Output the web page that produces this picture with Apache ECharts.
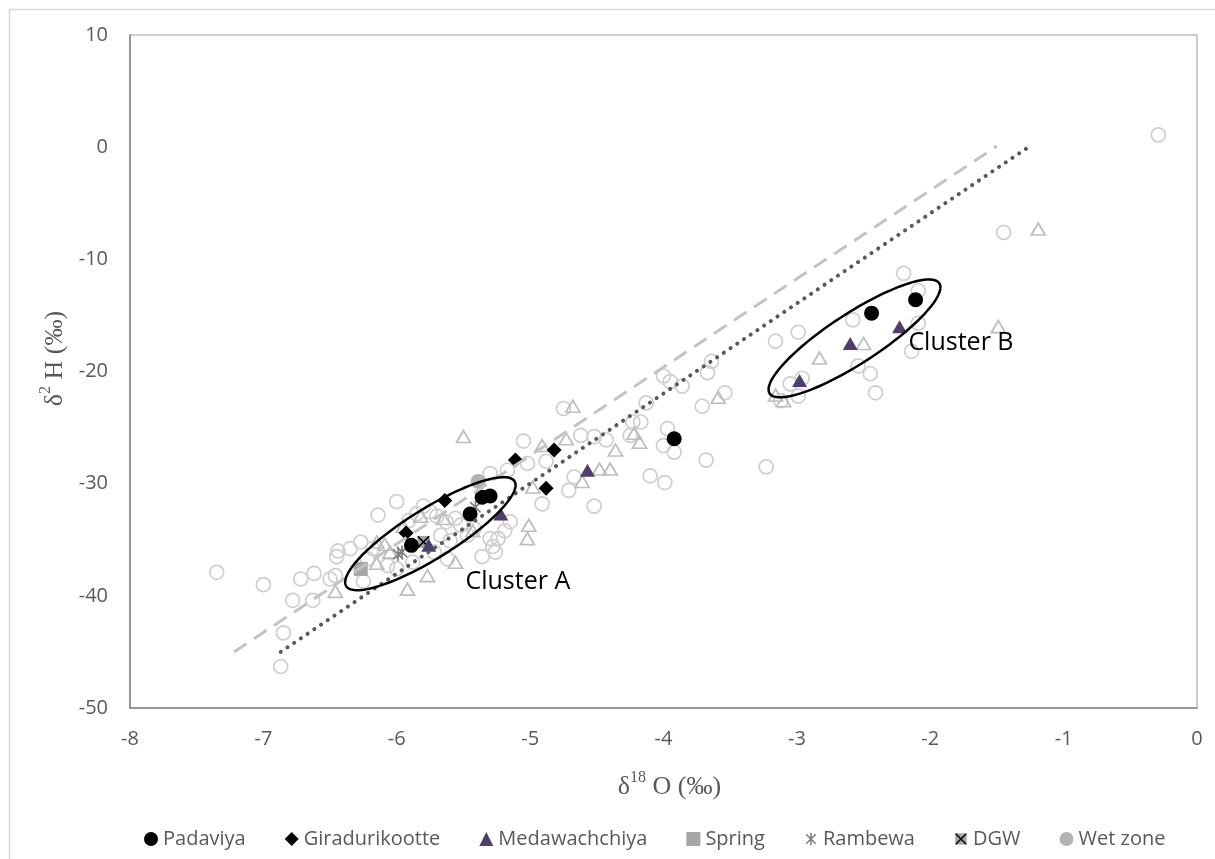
<!DOCTYPE html>
<html>
<head>
<meta charset="utf-8">
<script src="https://cdn.jsdelivr.net/npm/echarts@6/dist/echarts.min.js"></script>
<style>html,body{margin:0;padding:0;background:#fff}#chart{width:1215px;height:859px}</style>
</head>
<body>
<div id="chart"></div>
<script>
// ---------- axis ticks ----------
const xTicks = [-8, -7, -6, -5, -4, -3, -2, -1, 0];
const yTicks = [-50, -40, -30, -20, -10, 0, 10];

// ---------- series values [δ18O, δ2H] ----------
const padaviya = [[-5.45,-32.7],[-5.36,-31.2],[-5.3,-31.1],[-5.89,-35.5],[-3.92,-26.0],[-2.44,-14.8],[-2.11,-13.6]];
const giradurikootte = [[-5.93,-34.4],[-5.64,-31.5],[-5.11,-27.9],[-4.82,-27.0],[-4.88,-30.4]];
const medawachchiya = [[-5.22,-32.7],[-5.76,-35.5],[-4.57,-28.8],[-2.98,-20.8],[-2.6,-17.5],[-2.23,-16.0]];
const spring = [[-6.27,-37.6]];
const rambewa = [[-5.99,-36.3],[-5.96,-36.1],[-5.41,-32.1]];
const dgw = [[-5.8,-35.2]];
const wetZone = [[-5.39,-29.8]];

const otherCircles = [
[-7.35,-37.9],[-7.0,-39.0],[-6.72,-38.5],[-6.62,-38.0],[-6.78,-40.4],[-6.63,-40.4],[-6.85,-43.3],[-6.87,-46.3],
[-6.5,-38.5],[-6.46,-38.2],[-6.45,-36.5],[-6.44,-36.0],[-6.27,-35.2],[-6.14,-32.8],[-6.0,-31.6],
[-5.91,-33.3],[-5.85,-32.7],[-5.75,-32.5],[-5.7,-32.9],[-5.63,-33.4],[-5.56,-33.1],[-5.52,-33.7],[-5.42,-34.0],
[-5.3,-34.9],[-5.36,-36.5],[-5.26,-36.1],[-5.6,-35.1],[-5.67,-34.6],[-5.72,-36.1],[-5.62,-36.7],[-5.88,-37.0],
[-6.0,-37.6],[-6.07,-37.3],[-6.18,-35.8],[-6.22,-36.7],[-6.35,-35.8],[-5.8,-32.0],[-5.47,-34.6],[-5.15,-33.4],
[-5.19,-34.2],[-5.24,-34.9],[-6.25,-38.7],[-5.28,-35.6],
[-5.3,-29.1],[-5.17,-28.8],[-5.02,-28.2],[-4.88,-28.0],[-5.05,-26.2],[-4.91,-31.8],
[-4.75,-23.3],[-4.62,-25.7],[-4.52,-25.8],[-4.43,-26.1],[-4.67,-29.4],[-4.71,-30.6],[-4.52,-32.0],[-4.25,-25.7],
[-4.23,-24.5],[-4.17,-24.5],[-4.13,-22.8],[-4.1,-29.3],[-4.0,-20.4],[-3.95,-20.9],[-3.86,-21.3],[-3.97,-25.1],
[-4.0,-26.6],[-3.92,-27.2],[-3.99,-29.9],[-3.71,-23.1],[-3.54,-21.9],[-3.67,-20.1],[-3.64,-19.1],[-3.68,-27.9],
[-3.23,-28.5],[-3.16,-17.3],[-2.99,-16.5],[-2.58,-15.4],[-2.54,-19.5],[-2.96,-20.6],[-3.05,-21.1],[-2.99,-22.2],
[-3.12,-22.6],[-2.2,-11.25],[-2.09,-12.8],[-2.09,-15.7],[-2.14,-18.2],[-2.45,-20.2],[-2.41,-21.9],[-1.45,-7.6],[-0.29,1.1]
];
const otherTriangles = [
[-6.46,-39.6],[-6.15,-35.2],[-6.09,-35.4],[-6.15,-37.1],[-5.95,-33.8],[-6.05,-36.1],[-5.82,-32.9],[-5.65,-33.1],
[-5.77,-38.2],[-5.92,-39.4],[-5.56,-37.0],[-5.43,-34.2],[-5.5,-25.8],[-5.01,-33.7],[-5.02,-34.9],[-4.98,-30.3],
[-4.91,-26.6],[-4.73,-26.0],[-4.68,-23.1],[-4.61,-29.8],[-4.48,-28.7],[-4.4,-28.7],[-4.36,-27.0],[-4.22,-25.5],
[-4.18,-26.3],[-3.59,-22.3],[-3.16,-22.1],[-3.1,-22.6],[-2.83,-18.8],[-2.5,-17.5],[-1.49,-16.0],[-1.19,-7.3]
];

// ---------- water lines (end points) ----------
const dashedLine = [[-7.22,-45.0],[-1.5,0.1]];
const dottedLine = [[-6.87,-45.0],[-1.24,0.2]];

// ---------- cluster ellipses (centre, semi-axis vectors in data units) ----------
const clusterNames = ['Cluster A', 'Cluster B'];
const clusterCentres = [[-5.748,-34.46],[-2.568,-17.05]];
const clusterMajor = [[0.631,4.68],[0.636,4.91]];
const clusterMinor = [[-0.1,1.87],[-0.102,1.87]];
const clusterLabelAt = [[-5.485,-38.75],[-2.164,-17.45]];

const legendNames = ['Padaviya','Giradurikootte','Medawachchiya','Spring','Rambewa','DGW','Wet zone'];

function svgSymbol(svg) {
  return 'image://data:image/svg+xml;charset=utf-8,' + encodeURIComponent(svg);
}
const dgwSymbol = svgSymbol('<svg xmlns="http://www.w3.org/2000/svg" width="32" height="32" viewBox="0 0 16 16"><rect x="1.5" y="1.5" width="13" height="13" fill="#a6a6a6"/><path d="M2 2L14 14M14 2L2 14" stroke="#000" stroke-width="1.6" fill="none"/></svg>');
const rambewaSymbol = svgSymbol('<svg xmlns="http://www.w3.org/2000/svg" width="32" height="32" viewBox="0 0 16 16"><path d="M2.5 2.5L13.5 13.5M13.5 2.5L2.5 13.5M8 1L8 15" stroke="#7f7f7f" stroke-width="1.8" fill="none"/></svg>');

const chart = echarts.init(document.getElementById('chart'), null, {renderer: 'canvas'});

function renderEllipse(params, api) {
  const i = params.dataIndex;
  const c = clusterCentres[i], u = clusterMajor[i], v = clusterMinor[i];
  const pts = [];
  for (let k = 0; k < 120; k++) {
    const t = k / 120 * Math.PI * 2;
    pts.push(api.coord([c[0] + Math.cos(t) * u[0] + Math.sin(t) * v[0],
                        c[1] + Math.cos(t) * u[1] + Math.sin(t) * v[1]]));
  }
  const lp = api.coord(clusterLabelAt[i]);
  return {
    type: 'group',
    children: [
      {type: 'polygon', shape: {points: pts}, style: {fill: 'none', stroke: '#000', lineWidth: 2.5}},
      {type: 'text', x: lp[0], y: lp[1], style: {text: clusterNames[i], fill: '#000', fontSize: 25, fontFamily: 'Open Sans', align: 'left', verticalAlign: 'middle'}}
    ]
  };
}

const axisFont = {fontFamily: 'Open Sans', fontSize: 20, color: '#595959'};
const serifRich = {
  d: {fontFamily: 'Liberation Serif', fontSize: 26, color: '#595959', verticalAlign: 'bottom', lineHeight: 30},
  s: {fontFamily: 'Liberation Serif', fontSize: 16, color: '#595959', verticalAlign: 'top', lineHeight: 30}
};
const solid = {opacity: 1};

const option = {
  backgroundColor: '#fff',
  animation: false,
  graphic: [{
    type: 'rect', left: 7, top: 7, shape: {width: 1300, height: 1000},
    style: {fill: 'none', stroke: '#d9d9d9', lineWidth: 1.5}, silent: true, z: -10
  }],
  grid: {left: 130, right: 18, top: 35, bottom: 151, show: true, borderColor: '#bfbfbf', borderWidth: 1.5, backgroundColor: 'transparent'},
  xAxis: {
    type: 'value', min: xTicks[0], max: xTicks[xTicks.length - 1], interval: xTicks[1] - xTicks[0],
    axisLine: {show: true, onZero: false, lineStyle: {color: '#868686', width: 1.5}},
    axisTick: {show: false}, splitLine: {show: false},
    axisLabel: Object.assign({margin: 21}, axisFont),
    name: '{d|δ}{s|18}{d| O (‰)}', nameLocation: 'middle', nameGap: 62,
    nameTextStyle: {rich: serifRich, padding: [0, 0, 0, 12]}
  },
  yAxis: {
    type: 'value', min: yTicks[0], max: yTicks[yTicks.length - 1], interval: yTicks[1] - yTicks[0],
    axisLine: {show: true, onZero: false, lineStyle: {color: '#868686', width: 1.5}},
    axisTick: {show: false}, splitLine: {show: false},
    axisLabel: Object.assign({margin: 22}, axisFont),
    name: '{d|δ}{s|2}{d| H (‰)}', nameLocation: 'middle', nameGap: 61,
    nameTextStyle: {rich: serifRich, padding: [0, 0, 0, 26]}
  },
  legend: {
    data: legendNames, left: 139, top: 824, itemWidth: 14, itemHeight: 14, itemGap: 39,
    textStyle: {fontFamily: 'Open Sans', fontSize: 20, color: '#595959'},
    selectedMode: false
  },
  series: [
    {name: 'other-circles', type: 'scatter', data: otherCircles, symbol: 'circle', symbolSize: 14,
     itemStyle: {color: 'transparent', borderColor: '#cfcfcf', borderWidth: 1.7, opacity: 1}, silent: true},
    {name: 'other-triangles', type: 'scatter', data: otherTriangles, symbol: 'triangle', symbolSize: [14, 12],
     itemStyle: {color: 'transparent', borderColor: '#bdbdbd', borderWidth: 1.7, opacity: 1}, silent: true},
    {name: 'line-dashed', type: 'line', data: dashedLine, symbol: 'none', silent: true,
     lineStyle: {color: '#c3c3c3', width: 3, type: [15, 9]}},
    {name: 'line-dotted', type: 'line', data: dottedLine, symbol: 'none', silent: true,
     lineStyle: {color: '#595959', width: 4, type: [0.1, 8], cap: 'round'}},
    {name: 'Wet zone', type: 'scatter', data: wetZone, symbol: 'circle', symbolSize: 15, itemStyle: {color: '#b3b3b3', opacity: 1}},
    {name: 'Spring', type: 'scatter', data: spring, symbol: 'rect', symbolSize: 14, itemStyle: {color: '#a6a6a6', opacity: 1}},
    {name: 'Rambewa', type: 'scatter', data: rambewa, symbol: rambewaSymbol, symbolSize: 15, itemStyle: {color: '#7f7f7f', opacity: 1}},
    {name: 'DGW', type: 'scatter', data: dgw, symbol: dgwSymbol, symbolSize: 15, itemStyle: {color: '#a6a6a6', opacity: 1}},
    {name: 'Medawachchiya', type: 'scatter', data: medawachchiya, symbol: 'triangle', symbolSize: [15, 13], itemStyle: {color: '#4e3d6d', opacity: 1}},
    {name: 'Giradurikootte', type: 'scatter', data: giradurikootte, symbol: 'diamond', symbolSize: 15, itemStyle: {color: '#000', opacity: 1}},
    {name: 'Padaviya', type: 'scatter', data: padaviya, symbol: 'circle', symbolSize: 15, itemStyle: {color: '#000', opacity: 1}},
    {name: 'clusters', type: 'custom', data: clusterCentres, renderItem: renderEllipse, silent: true, z: 10,
     encode: {x: 0, y: 1}}
  ]
};
chart.setOption(option);
</script>
</body>
</html>
